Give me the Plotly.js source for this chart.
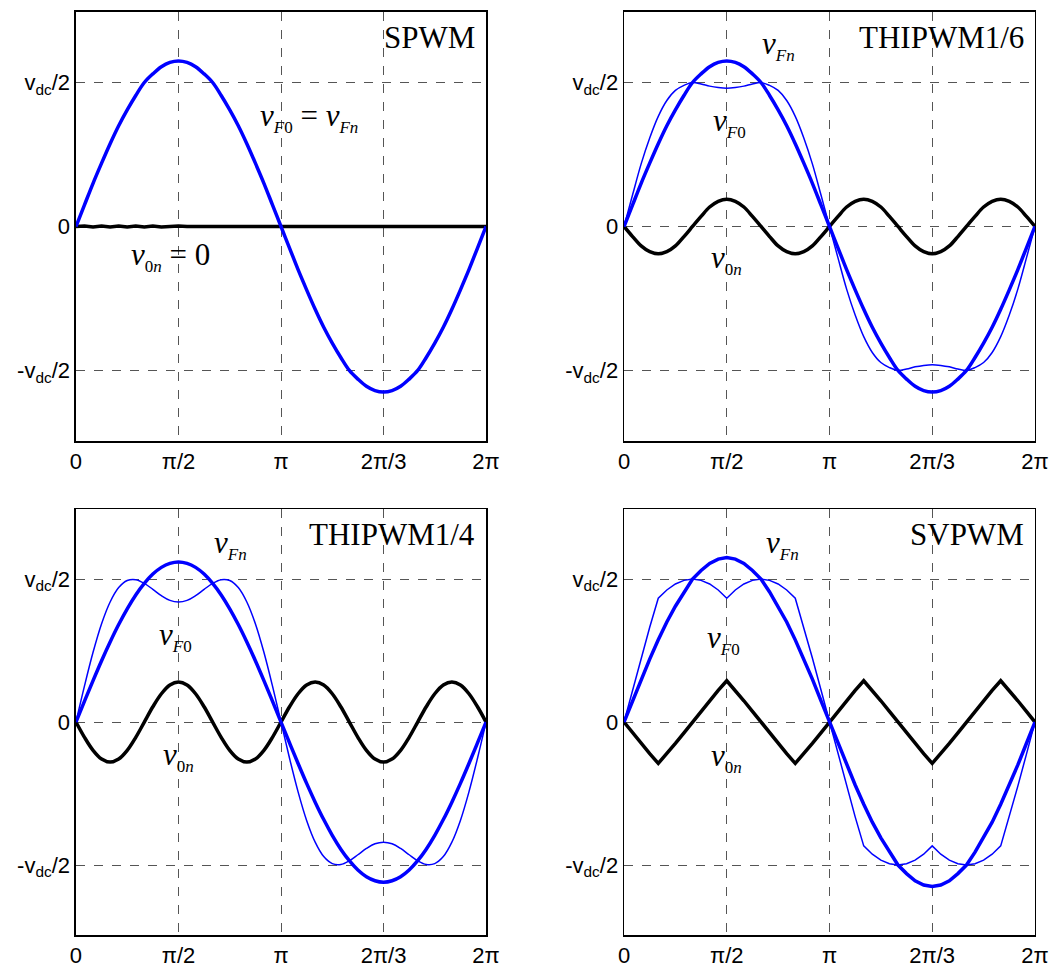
<!DOCTYPE html>
<html>
<head>
<meta charset="utf-8">
<script src="https://cdn.plot.ly/plotly-3.0.1.min.js"></script>
<style>html,body{margin:0;padding:0;background:#fff;}#chart{width:1055px;height:965px;}</style>
</head>
<body>
<div id="chart"></div>
<script>
// angle grid in degrees (0 .. 360, step 7.5)
const theta = [0,7.5,15,22.5,30,37.5,45,52.5,60,67.5,75,82.5,90,97.5,105,112.5,120,127.5,135,142.5,150,157.5,165,172.5,180,
  187.5,195,202.5,210,217.5,225,232.5,240,247.5,255,262.5,270,277.5,285,292.5,300,307.5,315,322.5,330,337.5,345,352.5,360];

const xTickVals = [0, 90, 180, 270, 360];
const xTickText = ['0', 'π/2', 'π', '2π/3', '2π'];
const yTickVals = [-1, 0, 1];
const yTickText = ['-v<sub>dc</sub>/2', '0', 'v<sub>dc</sub>/2'];
const panelTitles = ['SPWM', 'THIPWM1/6', 'THIPWM1/4', 'SVPWM'];

// SPWM
const spwm_vFn = [0,0.15,0.30,0.44,0.575,0.70,0.81,0.91,1.00,1.06,1.11,1.14,1.15,1.14,1.11,1.06,1.00,0.91,0.81,0.70,0.575,0.44,0.30,0.15,0,
  -0.15,-0.30,-0.44,-0.575,-0.70,-0.81,-0.91,-1.00,-1.06,-1.11,-1.14,-1.15,-1.14,-1.11,-1.06,-1.00,-0.91,-0.81,-0.70,-0.575,-0.44,-0.30,-0.15,0];
const spwm_v0n = [0,0.004,-0.003,0.004,-0.003,0.003,-0.004,0.003,-0.003,0.004,-0.003,0.003,0.004,0,0,0,0,0,0,0,0,0,0,0,0,
  0,0,0,0,0,0,0,0,0,0,0,0,0,0,0,0,0,0,0,0,0,0,0,0];

// THIPWM 1/6
const thi6_vFn = [0,0.15,0.30,0.44,0.575,0.70,0.81,0.91,1.00,1.06,1.11,1.14,1.15,1.14,1.11,1.06,1.00,0.91,0.81,0.70,0.575,0.44,0.30,0.15,0,
  -0.15,-0.30,-0.44,-0.575,-0.70,-0.81,-0.91,-1.00,-1.06,-1.11,-1.14,-1.15,-1.14,-1.11,-1.06,-1.00,-0.91,-0.81,-0.70,-0.575,-0.44,-0.30,-0.15,0];
const thi6_vF0 = [0,0.22,0.435,0.615,0.765,0.875,0.945,0.98,1.00,0.99,0.975,0.965,0.96,0.965,0.975,0.99,1.00,0.98,0.945,0.875,0.765,0.615,0.435,0.22,0,
  -0.22,-0.435,-0.615,-0.765,-0.875,-0.945,-0.98,-1.00,-0.99,-0.975,-0.965,-0.96,-0.965,-0.975,-0.99,-1.00,-0.98,-0.945,-0.875,-0.765,-0.615,-0.435,-0.22,0];
const thi6_v0n = [0,-0.07,-0.135,-0.175,-0.19,-0.175,-0.135,-0.07,0,0.07,0.135,0.175,0.19,0.175,0.135,0.07,0,-0.07,-0.135,-0.175,-0.19,-0.175,-0.135,-0.07,0,
  0.07,0.135,0.175,0.19,0.175,0.135,0.07,0,-0.07,-0.135,-0.175,-0.19,-0.175,-0.135,-0.07,0,0.07,0.135,0.175,0.19,0.175,0.135,0.07,0];

// THIPWM 1/4
const thi4_vFn = [0,0.146,0.29,0.429,0.56,0.682,0.792,0.889,0.97,1.035,1.082,1.11,1.12,1.11,1.082,1.035,0.97,0.889,0.792,0.682,0.56,0.429,0.29,0.146,0,
  -0.146,-0.29,-0.429,-0.56,-0.682,-0.792,-0.889,-0.97,-1.035,-1.082,-1.11,-1.12,-1.11,-1.082,-1.035,-0.97,-0.889,-0.792,-0.682,-0.56,-0.429,-0.29,-0.146,0];
const thi4_vF0 = [0,0.253,0.488,0.688,0.84,0.941,0.99,0.996,0.97,0.928,0.884,0.851,0.84,0.851,0.884,0.928,0.97,0.996,0.99,0.941,0.84,0.688,0.488,0.253,0,
  -0.253,-0.488,-0.688,-0.84,-0.941,-0.99,-0.996,-0.97,-0.928,-0.884,-0.851,-0.84,-0.851,-0.884,-0.928,-0.97,-0.996,-0.99,-0.941,-0.84,-0.688,-0.488,-0.253,0];
const thi4_v0n = [0,-0.107,-0.198,-0.259,-0.28,-0.259,-0.198,-0.107,0,0.107,0.198,0.259,0.28,0.259,0.198,0.107,0,-0.107,-0.198,-0.259,-0.28,-0.259,-0.198,-0.107,0,
  0.107,0.198,0.259,0.28,0.259,0.198,0.107,0,-0.107,-0.198,-0.259,-0.28,-0.259,-0.198,-0.107,0,0.107,0.198,0.259,0.28,0.259,0.198,0.107,0];

// SVPWM
const svm_vFn = [0,0.15,0.30,0.44,0.575,0.70,0.81,0.91,1.00,1.06,1.11,1.14,1.15,1.14,1.11,1.06,1.00,0.91,0.81,0.70,0.575,0.44,0.30,0.15,0,
  -0.15,-0.30,-0.44,-0.575,-0.70,-0.81,-0.91,-1.00,-1.06,-1.11,-1.14,-1.15,-1.14,-1.11,-1.06,-1.00,-0.91,-0.81,-0.70,-0.575,-0.44,-0.30,-0.15,0];
const svm_vF0 = [0,0.226,0.448,0.663,0.866,0.924,0.966,0.991,1.0,0.991,0.966,0.924,0.866,0.924,0.966,0.991,1.0,0.991,0.966,0.924,0.866,0.663,0.448,0.226,0,
  -0.226,-0.448,-0.663,-0.866,-0.924,-0.966,-0.991,-1.0,-0.991,-0.966,-0.924,-0.866,-0.924,-0.966,-0.991,-1.0,-0.991,-0.966,-0.924,-0.866,-0.663,-0.448,-0.226,0];
const svm_v0n = [0,-0.075,-0.149,-0.221,-0.289,-0.221,-0.149,-0.075,0,0.075,0.149,0.221,0.289,0.221,0.149,0.075,0,-0.075,-0.149,-0.221,-0.289,-0.221,-0.149,-0.075,0,
  0.075,0.149,0.221,0.289,0.221,0.149,0.075,0,-0.075,-0.149,-0.221,-0.289,-0.221,-0.149,-0.075,0,0.075,0.149,0.221,0.289,0.221,0.149,0.075,0];

const BLUE = '#0000ff';
const panels = [
  {vFn: spwm_vFn, vF0: null, v0n: spwm_v0n, shape: 'spline', zshape: 'linear'},
  {vFn: thi6_vFn, vF0: thi6_vF0, v0n: thi6_v0n, shape: 'spline', zshape: 'spline'},
  {vFn: thi4_vFn, vF0: thi4_vF0, v0n: thi4_v0n, shape: 'spline', zshape: 'spline'},
  {vFn: svm_vFn, vF0: svm_vF0, v0n: svm_v0n, shape: 'linear', zshape: 'linear'}
];

const traces = [];
panels.forEach((p, i) => {
  const xa = 'x' + (i === 0 ? '' : i + 1), ya = 'y' + (i === 0 ? '' : i + 1);
  traces.push({x: theta, y: p.v0n, xaxis: xa, yaxis: ya, mode: 'lines',
    line: {color: '#000000', width: 3.5, shape: p.zshape}, showlegend: false, hoverinfo: 'skip'});
  traces.push({x: theta, y: p.vFn, xaxis: xa, yaxis: ya, mode: 'lines',
    line: {color: BLUE, width: 3.5, shape: p.shape}, showlegend: false, hoverinfo: 'skip'});
  if (p.vF0) traces.push({x: theta, y: p.vF0, xaxis: xa, yaxis: ya, mode: 'lines',
    line: {color: BLUE, width: 1.5, shape: p.shape}, showlegend: false, hoverinfo: 'skip'});
});

const xDomains = [[0.0720, 0.4607], [0.5915, 0.9810], [0.0720, 0.4607], [0.5915, 0.9810]];
const yDomains = [[0.5430, 0.9876], [0.5430, 0.9876], [0.0310, 0.4725], [0.0310, 0.4725]];

const tickFont = {family: 'Liberation Sans, Arial, sans-serif', size: 22, color: '#000'};
const layout = {
  width: 1055, height: 965,
  margin: {l: 0, r: 0, t: 0, b: 0},
  paper_bgcolor: '#fff', plot_bgcolor: '#fff',
  showlegend: false,
  annotations: []
};
for (let i = 0; i < 4; i++) {
  const s = i === 0 ? '' : String(i + 1);
  layout['xaxis' + s] = {
    domain: xDomains[i], anchor: 'y' + s, range: [0, 360],
    tickmode: 'array', tickvals: xTickVals, ticktext: xTickText, tickfont: tickFont,
    showgrid: true, gridcolor: '#555', griddash: 'dash', gridwidth: 1,
    zeroline: false, showline: true, mirror: true, linecolor: '#000', linewidth: 1.5,
    ticks: '', fixedrange: true
  };
  layout['yaxis' + s] = {
    domain: yDomains[i], anchor: 'x' + s, range: [-1.49, 1.49],
    tickmode: 'array', tickvals: yTickVals, ticktext: yTickText, tickfont: tickFont,
    showgrid: true, gridcolor: '#555', griddash: 'dash', gridwidth: 1,
    zeroline: false, showline: true, mirror: true, linecolor: '#000', linewidth: 1.5,
    ticks: '', fixedrange: true
  };
  layout.annotations.push({
    text: panelTitles[i], xref: 'x' + s, yref: 'y' + s, x: 352, y: 1.31,
    xanchor: 'right', yanchor: 'middle', showarrow: false,
    font: {family: 'Liberation Serif, Times New Roman, serif', size: 31, color: '#000'}
  });
}

const sub = t => '<sub><span style="font-size:17px">' + t + '</span></sub>';
const labFont = {family: 'Liberation Serif, Times New Roman, serif', size: 31, color: '#000'};
const labels = [
  {p: 0, x: 205, y: 0.76, t: '<i>v</i>' + sub('<i>F</i>0') + ' = <i>v</i>' + sub('<i>Fn</i>')},
  {p: 0, x: 83, y: -0.21, t: '<i>v</i>' + sub('0<i>n</i>') + ' = 0'},
  {p: 1, x: 135, y: 1.26, t: '<i>v</i>' + sub('<i>Fn</i>')},
  {p: 1, x: 92, y: 0.72, t: '<i>v</i>' + sub('<i>F</i>0')},
  {p: 1, x: 90, y: -0.23, t: '<i>v</i>' + sub('0<i>n</i>')},
  {p: 2, x: 136, y: 1.24, t: '<i>v</i>' + sub('<i>Fn</i>')},
  {p: 2, x: 87, y: 0.60, t: '<i>v</i>' + sub('<i>F</i>0')},
  {p: 2, x: 90, y: -0.24, t: '<i>v</i>' + sub('0<i>n</i>')},
  {p: 3, x: 139, y: 1.24, t: '<i>v</i>' + sub('<i>Fn</i>')},
  {p: 3, x: 87, y: 0.58, t: '<i>v</i>' + sub('<i>F</i>0')},
  {p: 3, x: 90, y: -0.25, t: '<i>v</i>' + sub('0<i>n</i>')}
];
labels.forEach(l => {
  const s = l.p === 0 ? '' : String(l.p + 1);
  layout.annotations.push({text: l.t, xref: 'x' + s, yref: 'y' + s, x: l.x, y: l.y,
    xanchor: 'center', yanchor: 'middle', showarrow: false, font: labFont});
});

Plotly.newPlot('chart', traces, layout, {staticPlot: true, displayModeBar: false});
</script>
</body>
</html>
